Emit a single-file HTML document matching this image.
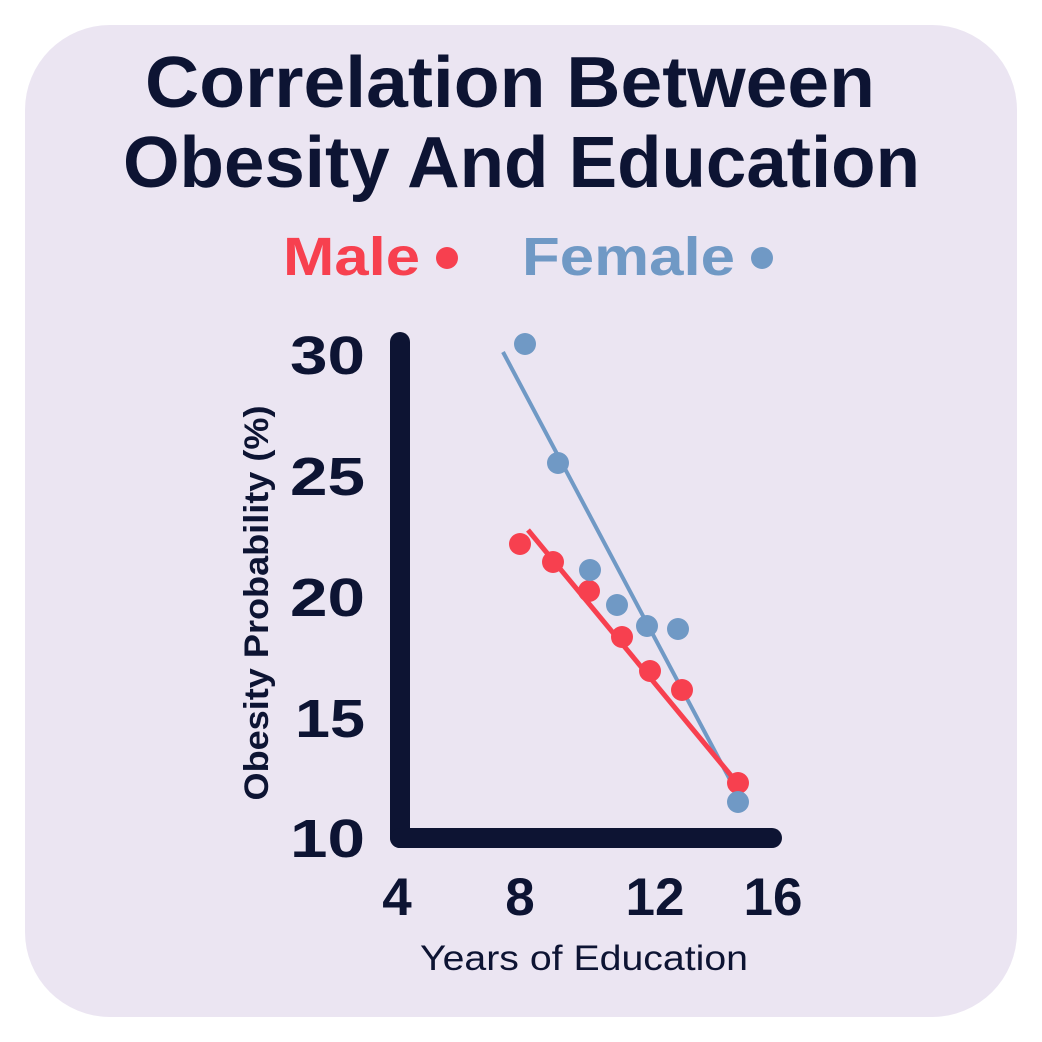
<!DOCTYPE html>
<html><head><meta charset="utf-8"><style>
html,body{margin:0;padding:0;background:#fff;}
svg{display:block;}
text{font-family:"Liberation Sans","DejaVu Sans",sans-serif;font-weight:bold;fill:#0d1433;}
</style></head><body>
<svg width="1042" height="1042" viewBox="0 0 1042 1042">
<rect x="25" y="25" width="992" height="992" rx="85" fill="#ebe5f2"/>
<text x="145" y="107" font-size="72" textLength="730" lengthAdjust="spacingAndGlyphs">Correlation Between</text>
<text x="123" y="187" font-size="72" textLength="797" lengthAdjust="spacingAndGlyphs">Obesity And Education</text>
<text x="283" y="275" font-size="54" textLength="137" lengthAdjust="spacingAndGlyphs" style="fill:#f7404f">Male</text>
<circle cx="447" cy="258" r="11" fill="#f7404f"/>
<text x="522" y="275" font-size="54" textLength="213" lengthAdjust="spacingAndGlyphs" style="fill:#7099c5">Female</text>
<circle cx="762" cy="258" r="11" fill="#7099c5"/>
<line x1="400" y1="342" x2="400" y2="838" stroke="#0d1433" stroke-width="20" stroke-linecap="round"/>
<line x1="400" y1="838" x2="772" y2="838" stroke="#0d1433" stroke-width="20" stroke-linecap="round"/>
<g font-size="54">
<text x="290" y="374" textLength="75" lengthAdjust="spacingAndGlyphs">30</text>
<text x="290" y="495" textLength="75" lengthAdjust="spacingAndGlyphs">25</text>
<text x="290" y="616" textLength="75" lengthAdjust="spacingAndGlyphs">20</text>
<text x="295" y="737" textLength="70" lengthAdjust="spacingAndGlyphs">15</text>
<text x="290" y="857" textLength="75" lengthAdjust="spacingAndGlyphs">10</text>
</g>
<g font-size="53" text-anchor="middle">
<text x="397" y="915">4</text><text x="520" y="915">8</text><text x="655" y="915">12</text><text x="773" y="915">16</text>
</g>
<text x="0" y="0" font-size="34" text-anchor="middle" textLength="395" lengthAdjust="spacingAndGlyphs" transform="translate(268,603) rotate(-90)">Obesity Probability (%)</text>
<text x="420" y="970" font-size="35" textLength="328" lengthAdjust="spacingAndGlyphs" style="font-weight:normal">Years of Education</text>
<line x1="503" y1="352" x2="745" y2="808" stroke="#7099c5" stroke-width="4"/>
<line x1="528" y1="530" x2="743" y2="790" stroke="#f7404f" stroke-width="5"/>
<g fill="#f7404f">
<circle cx="520" cy="544" r="11"/><circle cx="553" cy="562" r="11"/><circle cx="589" cy="591" r="11"/><circle cx="622" cy="637" r="11"/><circle cx="650" cy="671" r="11"/><circle cx="682" cy="690" r="11"/><circle cx="738" cy="783" r="11"/>
</g>
<g fill="#7099c5">
<circle cx="525" cy="344" r="11"/><circle cx="558" cy="463" r="11"/><circle cx="590" cy="570" r="11"/><circle cx="617" cy="605" r="11"/><circle cx="647" cy="626" r="11"/><circle cx="678" cy="629" r="11"/><circle cx="738" cy="802" r="11"/>
</g>
</svg>
</body></html>
